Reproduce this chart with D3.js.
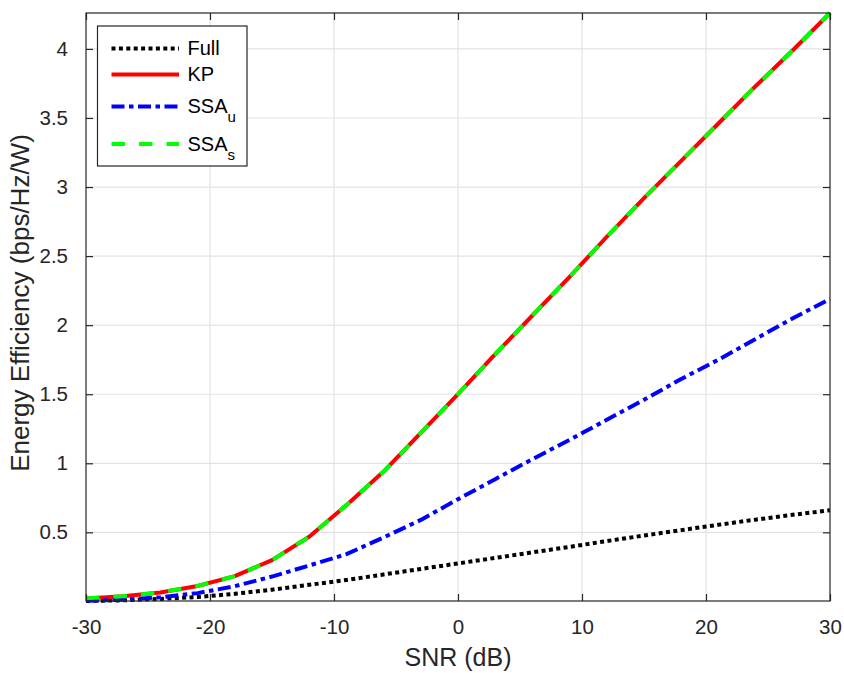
<!DOCTYPE html>
<html>
<head>
<meta charset="utf-8">
<script src="https://cdn.jsdelivr.net/npm/d3@7"></script>
<style>
  html, body { margin: 0; padding: 0; background: #fff; }
  svg { display: block; font-family: "Liberation Sans", Arial, Helvetica, sans-serif; }
</style>
</head>
<body>
<svg id="chart" width="844" height="673"></svg>
<script>
// SNR sweep (dB), sampled every 3 dB
const snr = [-30, -27, -24, -21, -18, -15, -12, -9, -6, -3, 0, 3, 6, 9, 12, 15, 18, 21, 24, 27, 30];

// Energy efficiency (bps/Hz/W) for each scheme
const full = [0.003, 0.008, 0.018, 0.032, 0.055, 0.085, 0.12, 0.155, 0.195, 0.235, 0.275, 0.315, 0.355, 0.395, 0.437, 0.477, 0.516, 0.555, 0.592, 0.627, 0.66];
const kp   = [0.022, 0.038, 0.065, 0.112, 0.183, 0.299, 0.468, 0.697, 0.94, 1.22, 1.50, 1.79, 2.07, 2.35, 2.64, 2.92, 3.19, 3.46, 3.73, 3.99, 4.26];
const ssaU = [0.005, 0.012, 0.03, 0.06, 0.11, 0.18, 0.26, 0.342, 0.463, 0.59, 0.74, 0.885, 1.03, 1.17, 1.315, 1.46, 1.61, 1.75, 1.90, 2.05, 2.19];
const ssaS = [0.022, 0.038, 0.065, 0.112, 0.183, 0.299, 0.468, 0.697, 0.94, 1.22, 1.50, 1.79, 2.07, 2.35, 2.64, 2.92, 3.19, 3.46, 3.73, 3.99, 4.26];

// Axis ticks
const xTicks = [-30, -20, -10, 0, 10, 20, 30];
const xTickLabels = ["-30", "-20", "-10", "0", "10", "20", "30"];
const yTicks = [0.5, 1, 1.5, 2, 2.5, 3, 3.5, 4];
const yTickLabels = ["0.5", "1", "1.5", "2", "2.5", "3", "3.5", "4"];

const xLabel = "SNR (dB)";
const yLabel = "Energy Efficiency (bps/Hz/W)";

const svg = d3.select("#chart");
const margin = { left: 86, right: 14, top: 13, bottom: 72 };
const W = 844, H = 673;
const plotW = W - margin.left - margin.right;
const plotH = H - margin.top - margin.bottom;

const x = d3.scaleLinear().domain([-30, 30]).range([0, plotW]);
const y = d3.scaleLinear().domain([0.003, 4.26]).range([plotH, 0]);

const axisColor = "#262626";
const g = svg.append("g").attr("transform", `translate(${margin.left},${margin.top})`);

// Grid lines
g.append("g").selectAll("line").data(xTicks.slice(1, -1)).join("line")
  .attr("x1", d => x(d)).attr("x2", d => x(d))
  .attr("y1", 0).attr("y2", plotH)
  .attr("stroke", "#e3e3e3").attr("stroke-width", 1.2);
g.append("g").selectAll("line").data(yTicks).join("line")
  .attr("x1", 0).attr("x2", plotW)
  .attr("y1", d => y(d)).attr("y2", d => y(d))
  .attr("stroke", "#e3e3e3").attr("stroke-width", 1.2);

// Series
const series = [
  { name: "Full", values: full, color: "#000000", dash: "4,3.4" },
  { name: "KP", values: kp, color: "#ff0000", dash: null },
  { name: "SSA", sub: "u", values: ssaU, color: "#0000ff", dash: "13,4.5,4.5,4.5" },
  { name: "SSA", sub: "s", values: ssaS, color: "#00ff00", dash: "13.5,14" }
];

const clipId = "plot-clip";
svg.append("defs").append("clipPath").attr("id", clipId)
  .append("rect").attr("x", -3).attr("y", -3).attr("width", plotW + 6).attr("height", plotH + 6);

const line = d3.line().x((d, i) => x(snr[i])).y(d => y(d));
const lines = g.append("g").attr("clip-path", `url(#${clipId})`);
series.forEach(s => {
  lines.append("path")
    .datum(s.values)
    .attr("d", line)
    .attr("fill", "none")
    .attr("stroke", s.color)
    .attr("stroke-width", 4)
    .attr("stroke-dasharray", s.dash)
    .attr("stroke-linejoin", "round");
});

// Axes: bottom & left with labels, top & right as box with inward ticks
const tickLen = 7;
const xAxis = d3.axisBottom(x).tickValues(xTicks).tickSizeInner(-tickLen).tickSizeOuter(0).tickPadding(18)
  .tickFormat((d, i) => xTickLabels[i]);
const yAxis = d3.axisLeft(y).tickValues(yTicks).tickSizeInner(-tickLen).tickSizeOuter(0).tickPadding(18)
  .tickFormat((d, i) => yTickLabels[i]);
const xAxisTop = d3.axisTop(x).tickValues(xTicks).tickSizeInner(-tickLen).tickSizeOuter(0).tickFormat("");
const yAxisRight = d3.axisRight(y).tickValues(yTicks).tickSizeInner(-tickLen).tickSizeOuter(0).tickFormat("");

function styleAxis(sel) {
  sel.select(".domain").remove();
  sel.selectAll("line").attr("stroke", axisColor).attr("stroke-width", 1.2);
  sel.selectAll("text").attr("fill", axisColor).style("font-size", "20.5px")
    .style("font-family", "'Liberation Sans', Arial, sans-serif");
}

g.append("g").attr("transform", `translate(0,${plotH})`).call(xAxis).call(styleAxis);
g.append("g").call(yAxis).call(styleAxis);
g.append("g").call(xAxisTop).call(styleAxis);
g.append("g").attr("transform", `translate(${plotW},0)`).call(yAxisRight).call(styleAxis);

// Box
g.append("rect").attr("x", 0).attr("y", 0).attr("width", plotW).attr("height", plotH)
  .attr("fill", "none").attr("stroke", axisColor).attr("stroke-width", 1.2);

// Axis labels
svg.append("text")
  .attr("x", margin.left + plotW / 2).attr("y", 666)
  .attr("text-anchor", "middle").attr("fill", axisColor)
  .style("font-size", "25px").text(xLabel);
svg.append("text")
  .attr("transform", `translate(29,${margin.top + plotH / 2 - 4}) rotate(-90)`)
  .attr("text-anchor", "middle").attr("fill", axisColor)
  .style("font-size", "26px").text(yLabel);

// Legend
const leg = svg.append("g");
leg.append("rect").attr("x", 97.5).attr("y", 26).attr("width", 149.5).attr("height", 140)
  .attr("fill", "#fff").attr("stroke", axisColor).attr("stroke-width", 1.2);
const legRows = [48.5, 74.5, 106.5, 144];
series.forEach((s, i) => {
  const ly = legRows[i];
  leg.append("line")
    .attr("x1", 111.5).attr("x2", 179).attr("y1", ly).attr("y2", ly)
    .attr("stroke", s.color).attr("stroke-width", 4)
    .attr("stroke-dasharray", s.dash);
  const t = leg.append("text").attr("x", 187.5).attr("y", ly + 6.5)
    .attr("fill", "#000").style("font-size", "20px").text(s.name);
  if (s.sub) {
    t.append("tspan").attr("dy", 9).style("font-size", "15px").text(s.sub);
  }
});
</script>
</body>
</html>
